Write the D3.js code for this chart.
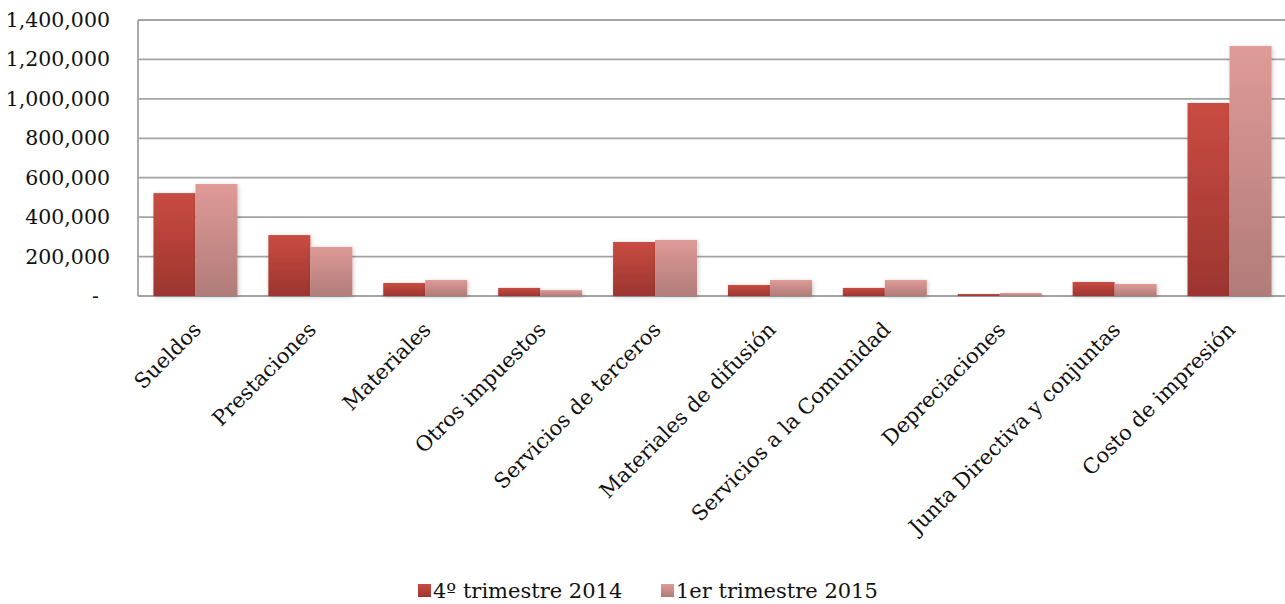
<!DOCTYPE html>
<html>
<head>
<meta charset="utf-8">
<script src="https://cdn.jsdelivr.net/npm/d3@7"></script>
<style>
  body { margin: 0; background: #fff; }
  svg text { font-family: "DejaVu Serif", serif; fill: #111; }
</style>
</head>
<body>
<svg id="chart"></svg>
<script>
// data
let categories = ['Sueldos', 'Prestaciones', 'Materiales', 'Otros impuestos', 'Servicios de terceros',
  'Materiales de difusión', 'Servicios a la Comunidad', 'Depreciaciones', 'Junta Directiva y conjuntas', 'Costo de impresión']
let seriesNames = ['4º trimestre 2014', '1er trimestre 2015']
let q4_2014 = [522000, 309000, 66000, 41000, 274000, 56000, 41000, 10000, 71000, 979000]
let q1_2015 = [568000, 249000, 81000, 30000, 284000, 81000, 81000, 15000, 61000, 1268000]
let yTicks = [0, 200000, 400000, 600000, 800000, 1000000, 1200000, 1400000]

// canvas
let width = 1285
let height = 604
let plotLeft = 138
let plotRight = 1287
let plotTop = 20
let plotBottom = 296

let svg = d3.select('#chart')
    .attr('width', width)
    .attr('height', height)

let defs = svg.append('defs')

// bar gradients
let grads = [
    { id: 'g0', top: '#c94c42', bottom: '#9c352f' },
    { id: 'g1', top: '#df9a97', bottom: '#b07c79' }
]
grads.forEach(g => {
    let lg = defs.append('linearGradient')
        .attr('id', g.id)
        .attr('x1', 0).attr('y1', 0).attr('x2', 0).attr('y2', 1)
    lg.append('stop').attr('offset', '0%').attr('stop-color', g.top)
    lg.append('stop').attr('offset', '100%').attr('stop-color', g.bottom)
})

let shadow = defs.append('filter')
    .attr('id', 'shadow')
    .attr('x', '-20%').attr('y', '-20%').attr('width', '140%').attr('height', '140%')
shadow.append('feDropShadow')
    .attr('dx', 1).attr('dy', 1).attr('stdDeviation', 2)
    .attr('flood-color', '#000').attr('flood-opacity', 0.22)

// scales
let xScale = d3.scaleBand()
    .domain(categories)
    .range([plotLeft, plotRight])
    .padding(0)

let xInner = d3.scaleBand()
    .domain([0, 1])
    .range([0, xScale.bandwidth()])
    .paddingInner(0)
    .paddingOuter(0.368)

let yScale = d3.scaleLinear()
    .domain([0, 1400000])
    .range([plotBottom, plotTop])

// gridlines
svg.append('g')
    .selectAll('line')
    .data(yTicks)
    .enter()
    .append('line')
    .attr('x1', plotLeft)
    .attr('x2', width)
    .attr('y1', d => yScale(d))
    .attr('y2', d => yScale(d))
    .attr('stroke', '#a3a3a3')
    .attr('stroke-width', 1.8)

// left border of plot
svg.append('line')
    .attr('x1', plotLeft).attr('x2', plotLeft)
    .attr('y1', yScale(1400000)).attr('y2', yScale(0))
    .attr('stroke', '#a3a3a3')
    .attr('stroke-width', 1.8)

// y axis
let yAxis = d3.axisLeft(yScale)
    .tickValues(yTicks)
    .tickSize(0)
    .tickPadding(0)
    .tickFormat(d => d === 0 ? '-' : d3.format(',')(d))

let yg = svg.append('g')
    .attr('transform', 'translate(110, 0)')
    .call(yAxis)
yg.select('.domain').remove()
yg.selectAll('text')
    .style('font-size', '20.5px')
    .attr('dy', '0.32em')
    .attr('dx', d => d === 0 ? -11 : 0)

// bars
let series = [q4_2014, q1_2015]
series.forEach((vals, s) => {
    svg.append('g')
        .selectAll('rect')
        .data(vals)
        .enter()
        .append('rect')
        .attr('x', (d, i) => xScale(categories[i]) + xInner(s))
        .attr('y', d => yScale(d))
        .attr('width', xInner.bandwidth())
        .attr('height', d => yScale(0) - yScale(d))
        .attr('fill', 'url(#g' + s + ')')
        .attr('filter', 'url(#shadow)')
})

// x labels
let xAxis = d3.axisBottom(xScale).tickSize(0).tickPadding(0)
let xg = svg.append('g')
    .attr('transform', 'translate(0, ' + plotBottom + ')')
    .call(xAxis)
xg.select('.domain').remove()
xg.selectAll('text')
    .style('font-size', '21px')
    .attr('text-anchor', 'end')
    .attr('y', 0)
    .attr('dy', 0)
    .attr('transform', 'translate(7, 35) rotate(-45)')

// legend
let legend = svg.append('g')
let legendX = [418, 661]
seriesNames.forEach((name, s) => {
    let g = legend.append('g').attr('transform', 'translate(' + legendX[s] + ', 584)')
    g.append('rect')
        .attr('width', 13).attr('height', 13)
        .attr('fill', 'url(#g' + s + ')')
    g.append('text')
        .attr('x', 15)
        .attr('y', 14)
        .style('font-size', '21px')
        .text(name)
})
</script>
</body>
</html>
